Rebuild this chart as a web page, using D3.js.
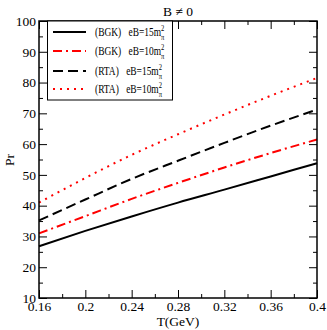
<!DOCTYPE html>
<html>
<head>
<meta charset="utf-8">
<script src="https://cdn.jsdelivr.net/npm/d3@7"></script>
<style>
  body { margin: 0; background: #fff; }
  svg text { font-family: "Liberation Serif", "DejaVu Serif", serif; }
</style>
</head>
<body>
<svg id="chart" width="327" height="330"></svg>
<script>
var temps = [0.16, 0.20, 0.24, 0.28, 0.32, 0.36, 0.40];
var bgk15 = [26.8, 31.8, 36.5, 41.0, 45.2, 49.5, 53.8];
var bgk10 = [31.0, 36.6, 42.2, 47.4, 52.4, 57.1, 61.5];
var rta15 = [35.2, 42.0, 48.7, 54.6, 60.4, 66.0, 71.2];
var rta10 = [41.0, 49.0, 56.5, 63.2, 69.6, 75.7, 81.5];
var xTicks = [0.16, 0.2, 0.24, 0.28, 0.32, 0.36, 0.4];
var yTicks = [10, 20, 30, 40, 50, 60, 70, 80, 90, 100];

var series = [
  { scheme: '(BGK)', eb: '15', values: bgk15, color: '#000', dash: null },
  { scheme: '(BGK)', eb: '10', values: bgk10, color: '#ff0000', dash: '9,4,2,4' },
  { scheme: '(RTA)', eb: '15', values: rta15, color: '#000', dash: '10,5' },
  { scheme: '(RTA)', eb: '10', values: rta10, color: '#ff0000', dash: '2,5' }
];

var svg = d3.select('#chart');
// plot box in pixels ("top" is taken by window.top, so use a prefix)
var pLeft = 39, pRight = 317, pTop = 21, pBottom = 298;

var x = d3.scaleLinear().domain([0.16, 0.4]).range([pLeft, pRight]);
var y = d3.scaleLinear().domain([10, 100]).range([pBottom, pTop]);

// ticks on all four sides, pointing inward
function tickAxis(axis, tr) {
  var g = svg.append('g').attr('transform', tr).call(axis);
  g.select('.domain').remove();
  g.selectAll('line').attr('stroke', '#000').attr('stroke-width', 1);
  return g;
}
var xMinor = [0.18, 0.22, 0.26, 0.30, 0.34, 0.38];
var yMinor = [15, 25, 35, 45, 55, 65, 75, 85, 95];

tickAxis(d3.axisBottom(x).tickValues(xTicks).tickSize(-8).tickFormat(d3.format('')), 'translate(0,' + pBottom + ')')
  .selectAll('text').attr('y', 3).attr('dy', '0.71em').style('font-size', '13.5px');
tickAxis(d3.axisBottom(x).tickValues(xMinor).tickSize(-4).tickFormat(''), 'translate(0,' + pBottom + ')');
tickAxis(d3.axisTop(x).tickValues(xTicks).tickSize(-8).tickFormat(''), 'translate(0,' + pTop + ')');
tickAxis(d3.axisTop(x).tickValues(xMinor).tickSize(-4).tickFormat(''), 'translate(0,' + pTop + ')');

tickAxis(d3.axisLeft(y).tickValues(yTicks).tickSize(-8).tickFormat(d3.format('d')), 'translate(' + pLeft + ',0)')
  .selectAll('text').attr('x', -3).style('font-size', '13.5px');
tickAxis(d3.axisLeft(y).tickValues(yMinor).tickSize(-4).tickFormat(''), 'translate(' + pLeft + ',0)');
tickAxis(d3.axisRight(y).tickValues(yTicks).tickSize(-8).tickFormat(''), 'translate(' + pRight + ',0)');
tickAxis(d3.axisRight(y).tickValues(yMinor).tickSize(-4).tickFormat(''), 'translate(' + pRight + ',0)');

svg.selectAll('.tick text').attr('fill', '#000').style('font-family', '"Liberation Serif", serif');

// curves
var line = d3.line()
  .x(function(d, i) { return x(temps[i]); })
  .y(function(d) { return y(d); })
  .curve(d3.curveMonotoneX);

svg.append('g').selectAll('path').data(series).enter().append('path')
  .attr('d', function(s) { return line(s.values); })
  .attr('fill', 'none')
  .attr('stroke', function(s) { return s.color; })
  .attr('stroke-width', 2)
  .attr('stroke-dasharray', function(s) { return s.dash; });

// frame
svg.append('rect')
  .attr('x', pLeft).attr('y', pTop)
  .attr('width', pRight - pLeft).attr('height', pBottom - pTop)
  .attr('fill', 'none').attr('stroke', '#000').attr('stroke-width', 1.5);

// legend
var legend = svg.append('g');
legend.append('rect')
  .attr('x', 47.5).attr('y', 21).attr('width', 125).attr('height', 79)
  .attr('fill', '#fff').attr('stroke', '#000').attr('stroke-width', 1);
var rowY = [32, 51, 71, 89];
series.forEach(function(s, i) {
  legend.append('line')
    .attr('x1', 53).attr('x2', 86).attr('y1', rowY[i]).attr('y2', rowY[i])
    .attr('stroke', s.color).attr('stroke-width', 2)
    .attr('stroke-dasharray', s.dash);
  // the legend lettering is narrow in the original, so squeeze it
  var t = legend.append('text')
    .attr('transform', 'translate(95,' + (rowY[i] + 4) + ') scale(0.82,1)')
    .style('font-size', '11.5px').attr('fill', '#000');
  t.append('tspan').text(s.scheme);
  t.append('tspan').attr('dx', 9).text('eB=' + s.eb + 'm');
  t.append('tspan').attr('dy', -5.5).style('font-size', '8px').text('2');
  t.append('tspan').attr('dx', -4).attr('dy', 9.5).style('font-size', '8px').text('\u03c0');
});

// titles
svg.append('text').attr('x', 178).attr('y', 16).attr('text-anchor', 'middle')
  .style('font-size', '13.5px').text('B \u2260 0');
svg.append('text').attr('x', 178).attr('y', 326).attr('text-anchor', 'middle')
  .style('font-size', '13.5px').text('T(GeV)');
svg.append('text').attr('transform', 'translate(14,160) rotate(-90)')
  .attr('text-anchor', 'middle').style('font-size', '13.5px').text('Pr');
</script>
</body>
</html>
